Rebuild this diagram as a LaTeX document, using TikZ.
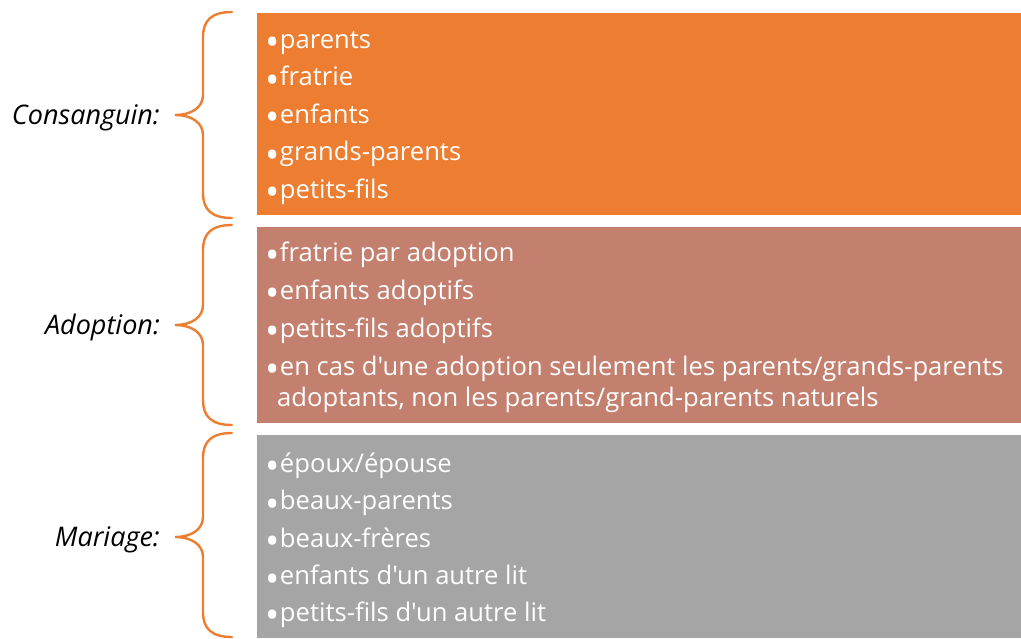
\documentclass[tikz,border=0pt]{standalone}
\usepackage{fontspec}
\setmainfont{Open Sans}[Ligatures=TeXOff]
\definecolor{orng}{HTML}{ED7D31}
\definecolor{brwn}{HTML}{C4806F}
\definecolor{gry}{HTML}{A5A5A5}
\newcommand{\bul}{\raisebox{-7.5pt}{\fontsize{38}{30}\selectfont•}\kern0.5pt}
\begin{document}
\begin{tikzpicture}[x=1pt,y=-1pt,
  item/.style={anchor=base west,inner sep=0pt,text=white,font=\fontsize{25.6}{30}\selectfont},
  lbl/.style={anchor=base east,inner sep=0pt,text=black,font=\fontsize{27}{30}\selectfont\itshape},
  brc/.style={draw=orng,line width=2.4pt,line cap=round}]
\useasboundingbox (0,0) rectangle (1021,638);
% boxes
\fill[orng] (257,13) rectangle (1021,215);
\fill[brwn] (257,227) rectangle (1021,423);
\fill[gry] (257,435) rectangle (1021,638);
% braces
\draw[brc] (232,12) .. controls (212,12) and (203,20) .. (203,37) -- (203,95) .. controls (203,107) and (192,115) .. (175,115) .. controls (192,115) and (203,123) .. (203,135) -- (203,193) .. controls (203,210) and (212,218) .. (232,218);
\draw[brc] (232,225) .. controls (212,225) and (203,233) .. (203,250) -- (203,305) .. controls (203,317) and (192,325) .. (175,325) .. controls (192,325) and (203,333) .. (203,345) -- (203,400) .. controls (203,417) and (212,425) .. (232,425);
\draw[brc] (232,433) .. controls (212,433) and (203,441) .. (203,458) -- (203,517) .. controls (203,529) and (192,537) .. (175,537) .. controls (192,537) and (203,545) .. (203,557) -- (203,612) .. controls (203,629) and (212,637) .. (232,637);
% labels
\node[lbl] (lc) at (160,124) {Consanguin:};
\node[lbl] (la) at (160,334) {Adoption:};
\node[lbl] (lm) at (160,546) {Mariage:};
% consanguin
\node[item] (c1) at (265,48) {\bul parents};
\node[item] (c2) at (265,85.5) {\bul fratrie};
\node[item] (c3) at (265,123) {\bul enfants};
\node[item] (c4) at (265,160.5) {\bul grands-parents};
\node[item] (c5) at (265,198) {\bul petits-fils};
% adoption
\node[item] (a1) at (265,261) {\bul fratrie par adoption};
\node[item] (a2) at (265,299) {\bul enfants adoptifs};
\node[item] (a3) at (265,337) {\bul petits-fils adoptifs};
\node[item] (a4) at (265,375) {\bul en cas d'une adoption seulement les parents/grands-parents};
\node[item] (a5) at (277,406) {adoptants, non les parents/grand-parents naturels};
% mariage
\node[item] (m1) at (265,472) {\bul époux/épouse};
\node[item] (m2) at (265,509.5) {\bul beaux-parents};
\node[item] (m3) at (265,547) {\bul beaux-frères};
\node[item] (m4) at (265,584.5) {\bul enfants d'un autre lit};
\node[item] (m5) at (265,621) {\bul petits-fils d'un autre lit};
\end{tikzpicture}
\end{document}
